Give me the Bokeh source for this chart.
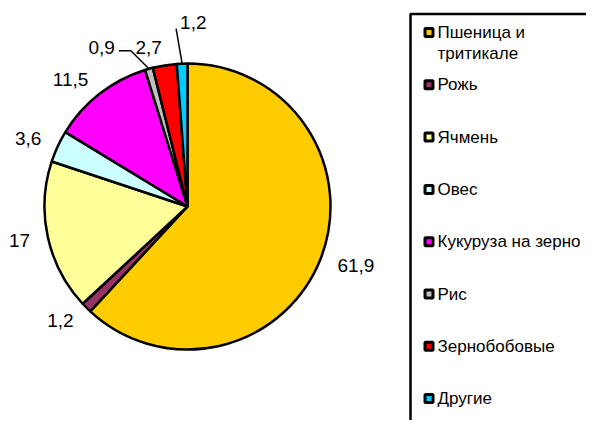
import math
from bokeh.plotting import figure
from bokeh.models import Range1d, ColumnDataSource
from bokeh.core.properties import value
from bokeh.embed import file_html
from bokeh.resources import INLINE

# ---- data ----
categories = ["Пшеница и тритикале", "Рожь", "Ячмень", "Овес",
              "Кукуруза на зерно", "Рис", "Зернобобовые", "Другие"]
legend_lines = ["Пшеница и\nтритикале", "Рожь", "Ячмень", "Овес",
                "Кукуруза на зерно", "Рис", "Зернобобовые", "Другие"]
shares = [61.9, 1.2, 17, 3.6, 11.5, 0.9, 2.7, 1.2]
share_labels = ["61,9", "1,2", "17", "3,6", "11,5", "0,9", "2,7", "1,2"]
colors = ["#FFCC00", "#993366", "#FFFF99", "#CCFFFF",
          "#FF00FF", "#C0C0C0", "#FF0000", "#00CCFF"]

# ---- layout (pixels of the picture, y down) ----
W, H = 586, 420
def Y(py):
    return 420 - py

CX, CY, R = 187, 206, 143
FONT = "Liberation Sans"
LABEL_SIZE = "19px"
LEGEND_SIZE = "17px"

p = figure(width=W, height=H, x_range=Range1d(0, W), y_range=Range1d(0, H),
           output_backend="svg", toolbar_location=None, min_border=0)
p.axis.visible = False
p.grid.visible = False
p.outline_line_color = None
p.background_fill_color = "white"
p.border_fill_color = "white"

total = sum(shares)
starts, ends, mids = [], [], []
cum = 0.0
for v in shares:
    a0 = cum / total
    cum += v
    a1 = cum / total
    starts.append(math.pi / 2 - 2 * math.pi * a0)
    ends.append(math.pi / 2 - 2 * math.pi * a1)
    mids.append(2 * math.pi * (a0 + a1) / 2)  # clockwise from top

src = ColumnDataSource(dict(start=starts, end=ends, color=colors))
p.wedge(x=CX, y=Y(CY), radius=R, start_angle="start", end_angle="end",
        direction="clock", fill_color="color", line_color="black",
        line_width=2.5, source=src)

# ---- data labels ----
leaders = {5: [(-18, -18), (-12, 0)], 7: [(-6, -35)]}
for i, lab in enumerate(share_labels):
    th = mids[i]
    sx, sy = math.sin(th), -math.cos(th)
    if i in leaders:
        px, py = CX + R * sx, CY + R * sy
        xs, ys = [px], [Y(py)]
        for dx, dy in leaders[i]:
            px += dx
            py += dy
            xs.append(px)
            ys.append(Y(py))
        p.line(xs, ys, line_color="black", line_width=1.5)
        if i == 5:
            p.text(x=[px - 4], y=[Y(py - 3)], text=[lab], text_align="right",
                   text_baseline="middle", text_font=value(FONT),
                   text_font_size=LABEL_SIZE, text_color="black")
        else:
            p.text(x=[px + 4], y=[Y(py - 6)], text=[lab], text_align="left",
                   text_baseline="middle", text_font=value(FONT),
                   text_font_size=LABEL_SIZE, text_color="black")
        continue
    ax, ay = CX + (R + 18) * sx, CY + (R + 18) * sy
    p.text(x=[ax], y=[Y(ay)], text=[lab],
           text_align="left" if sx > 0 else "right", text_baseline="middle",
           text_font=value(FONT), text_font_size=LABEL_SIZE, text_color="black")

# ---- legend (box runs off the right and bottom edges) ----
p.line([410, 410, W + 10], [Y(H + 10), Y(13.5), Y(13.5)],
       line_color="black", line_width=2.5)
LY0, LSTEP = 32, 52.3
for i, name in enumerate(legend_lines):
    y0 = LY0 + i * LSTEP
    p.rect(x=[428.5], y=[Y(y0)], width=8, height=8, fill_color=colors[i],
           line_color="black", line_width=3)
    for j, line in enumerate(name.split("\n")):
        p.text(x=[437], y=[Y(y0 + j * 21)], text=[line], text_align="left",
               text_baseline="middle", text_font=value(FONT),
               text_font_size=LEGEND_SIZE, text_color="black")

open("out.html", "w").write(file_html(p, INLINE))
